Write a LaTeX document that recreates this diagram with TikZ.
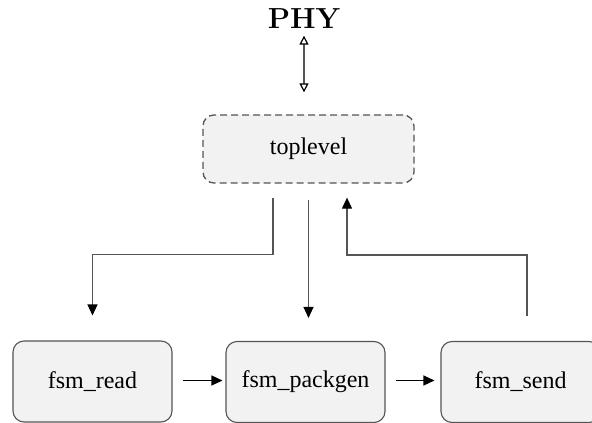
\documentclass[tikz,border=0pt]{standalone}
\usepackage{fontspec}
\setmainfont{Liberation Serif}
\newfontfamily\lmbold{Latin Modern Roman}
\usetikzlibrary{arrows.meta,calc}
\definecolor{boxfill}{HTML}{F2F2F2}
\definecolor{edge}{HTML}{555555}
\tikzset{
  block/.style={draw=edge, fill=boxfill, rounded corners=11pt, line width=1.1pt,
    minimum width=159pt, minimum height=81pt, inner sep=0pt,
    font=\fontsize{24}{28}\selectfont},
  topblock/.style={block, dash pattern=on 7pt off 4pt, line width=1.3pt,
    minimum width=211pt, minimum height=68pt},
  conn/.style={draw=edge, line width=1.2pt, -{Triangle[width=10pt,length=11pt,color=black]}},
  flow/.style={draw=black, line width=1.2pt, -{Triangle[width=10pt,length=11pt]}},
  bus/.style={draw=edge, line width=1.2pt,
    {Triangle[open,width=9pt,length=9pt,color=black]}-{Triangle[open,width=9pt,length=9pt,color=black]}}
}
\begin{document}
\begin{tikzpicture}[x=1pt,y=-1pt]
  \useasboundingbox (0,0) rectangle (592,423);

  % nodes
  \node[inner sep=0pt, font=\lmbold\bfseries\fontsize{29}{30}\selectfont] (phy) at (304,18.5) {PHY};
  \node[topblock] (top) at (308.5,149) {toplevel};
  \node[block] (read) at (92.5,381.5) {fsm\_read};
  \node[block] (pack) at (305.5,382) {fsm\_packgen};
  \node[block] (send) at (520.5,382) {fsm\_send};

  % free ends of the connectors
  \coordinate (b1) at ($(phy.south)+(0,7)$);
  \coordinate (b2) at ($(top.north)+(-4.5,-22)$);
  \coordinate (t1) at ($(top.south)+(-35.5,14)$);
  \coordinate (t2) at ($(top.south)+(0,16)$);
  \coordinate (t3) at ($(top.south)+(38.5,14)$);
  \coordinate (r1) at ($(read.north)+(0,-25)$);
  \coordinate (s1) at ($(send.north)+(6.5,-25)$);
  \coordinate (ra) at ($(read.east)+(10,-1)$);
  \coordinate (pa) at ($(pack.west)+(-3,-1.5)$);
  \coordinate (pb) at ($(pack.east)+(10,-1.5)$);
  \coordinate (sa) at ($(send.west)+(-6,-1.5)$);

  % connectors
  \draw[bus] (b1) -- (b2);
  \draw[conn] (t1) -- ++(0,57) -| (r1);
  \draw[conn] (t2) -- (t2 |- {$(pack.north)+(0,-23)$});
  \draw[conn] (s1) -- ++(0,-61) -| (t3);
  \draw[flow] (ra) -- (pa);
  \draw[flow] (pb) -- (sa);
\end{tikzpicture}
\end{document}
